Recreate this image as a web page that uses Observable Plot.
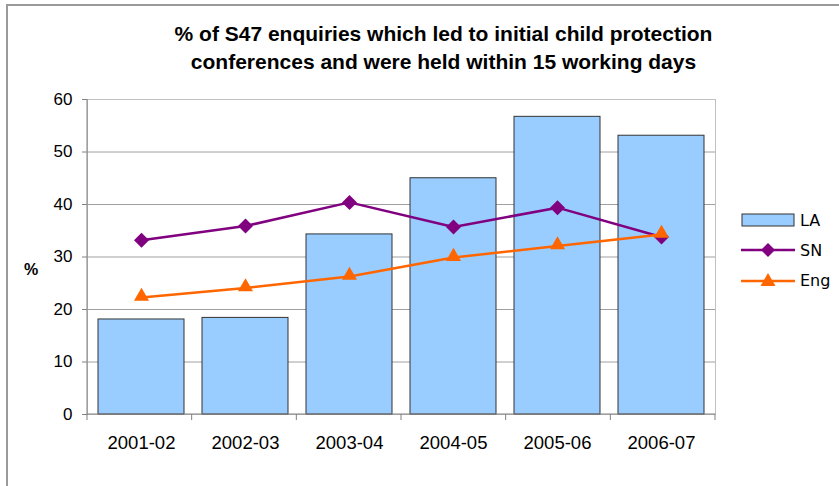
<!DOCTYPE html>
<html>
<head>
<meta charset="utf-8">
<script src="https://cdn.jsdelivr.net/npm/d3@7"></script>
<script src="https://cdn.jsdelivr.net/npm/@observablehq/plot@0.6"></script>
<style>
  html, body { margin: 0; padding: 0; background: #fff; }
  #wrap { position: relative; width: 839px; height: 486px; overflow: hidden; background: #fff; }
  #border { position: absolute; left: 6px; top: 4px; right: -4px; bottom: -4px; border-left: 2px solid #9a9a9a; border-top: 2px solid #9a9a9a; }
  #title { position: absolute; left: 0; top: 20px; width: 887px; text-align: center; font: bold 21px "Liberation Sans", Arial, sans-serif; line-height: 28px; color: #000; }
  #ylab { position: absolute; left: 24px; top: 261px; font: bold 16px "Liberation Sans", Arial, sans-serif; color: #000; }
  #legend { position: absolute; left: 741px; top: 205px; font: 16px "DejaVu Sans", sans-serif; color: #000; }
  .item { display: flex; align-items: center; height: 30px; }
  .item svg { margin-right: 5px; }
  #chart { position: absolute; left: 0; top: 0; }
</style>
</head>
<body>
<div id="wrap">
  <div id="chart"></div>
  <div id="border"></div>
  <div id="title"></div>
  <div id="ylab"></div>
  <div id="legend"></div>
</div>
<script>
const titleLines = ["% of S47 enquiries which led to initial child protection", "conferences and were held within 15 working days"];
const yLabel = "%";
const years = ["2001-02", "2002-03", "2003-04", "2004-05", "2005-06", "2006-07"];
const la = [18.1, 18.4, 34.3, 45.0, 56.7, 53.1];
const sn = [33.2, 35.9, 40.4, 35.7, 39.4, 33.8];
const eng = [22.3, 24.1, 26.3, 29.9, 32.1, 34.3];
const yTicks = [0, 10, 20, 30, 40, 50, 60];
const seriesNames = ["LA", "SN", "Eng"];

const table = years.map((y, i) => ({year: y, la: la[i], sn: sn[i], eng: eng[i]}));

const colLA = "#99CCFF", colSN = "#800080", colEng = "#FF6600";

document.getElementById("title").innerHTML = titleLines.join("<br>");
document.getElementById("ylab").textContent = yLabel;

// band-boundary tick marks below the x axis and the axis lines
function axisDecor(index, scales, values, dims) {
  const g = d3.create("svg:g");
  const left = dims.marginLeft, right = dims.width - dims.marginRight;
  const y0 = scales.y(0), yTop = scales.y(60);
  const n = years.length;
  for (let i = 0; i <= n; i++) {
    const x = left + i * (right - left) / n;
    g.append("line").attr("x1", x).attr("x2", x).attr("y1", y0).attr("y2", y0 + 6)
      .attr("stroke", "#808080");
  }
  g.append("line").attr("x1", left).attr("x2", left).attr("y1", yTop).attr("y2", y0).attr("stroke", "#808080");
  g.append("line").attr("x1", left).attr("x2", right).attr("y1", y0).attr("y2", y0).attr("stroke", "#808080");
  return g.node();
}

const chart = Plot.plot({
  width: 839,
  height: 486,
  marginLeft: 87,
  marginRight: 124,
  marginTop: 99,
  marginBottom: 72,
  style: {fontFamily: "'Liberation Sans', Arial, sans-serif", fontSize: "16px", color: "#000", background: "transparent", overflow: "visible"},
  x: {type: "band", domain: years, paddingInner: 0.172, paddingOuter: 0.086, axis: null},
  y: {domain: [0, 60], axis: null},
  marks: [
    Plot.ruleY(yTicks, {stroke: "#a0a0a0", strokeWidth: 1}),
    Plot.frame({stroke: "#c0c0c0"}),
    Plot.barY(table, {x: "year", y: "la", fill: colLA, stroke: "#333", strokeWidth: 1}),
    Plot.line(table, {x: "year", y: "sn", stroke: colSN, strokeWidth: 2.5}),
    Plot.dot(table, {x: "year", y: "sn", symbol: "diamond2", r: 6.75, fill: colSN, stroke: "none"}),
    Plot.line(table, {x: "year", y: "eng", stroke: colEng, strokeWidth: 2.5}),
    Plot.dot(table, {x: "year", y: "eng", symbol: "triangle", r: 5.6, fill: colEng, stroke: "none", dy: -1}),
    axisDecor,
    Plot.axisY({ticks: yTicks, tickSize: 5, tickPadding: 10, stroke: "#808080", fontSize: 17, label: null}),
    Plot.axisX({tickSize: 0, tickPadding: 21, fontSize: 18.5, label: null})
  ]
});
document.getElementById("chart").appendChild(chart);

// legend
const legend = document.getElementById("legend");
const swatches = [
  '<svg width="54" height="16"><rect x="1" y="2" width="52" height="12" fill="' + colLA + '" stroke="#333"/></svg>',
  '<svg width="54" height="16"><line x1="0" x2="54" y1="8" y2="8" stroke="' + colSN + '" stroke-width="2.5"/><path d="M27,1 L34,8 L27,15 L20,8 Z" fill="' + colSN + '"/></svg>',
  '<svg width="54" height="16"><line x1="0" x2="54" y1="9" y2="9" stroke="' + colEng + '" stroke-width="2.5"/><path d="M27,1 L34.5,14 L19.5,14 Z" fill="' + colEng + '"/></svg>'
];
seriesNames.forEach((name, i) => {
  const d = document.createElement("div");
  d.className = "item";
  d.innerHTML = swatches[i] + "<span>" + name + "</span>";
  legend.appendChild(d);
});
</script>
</body>
</html>
